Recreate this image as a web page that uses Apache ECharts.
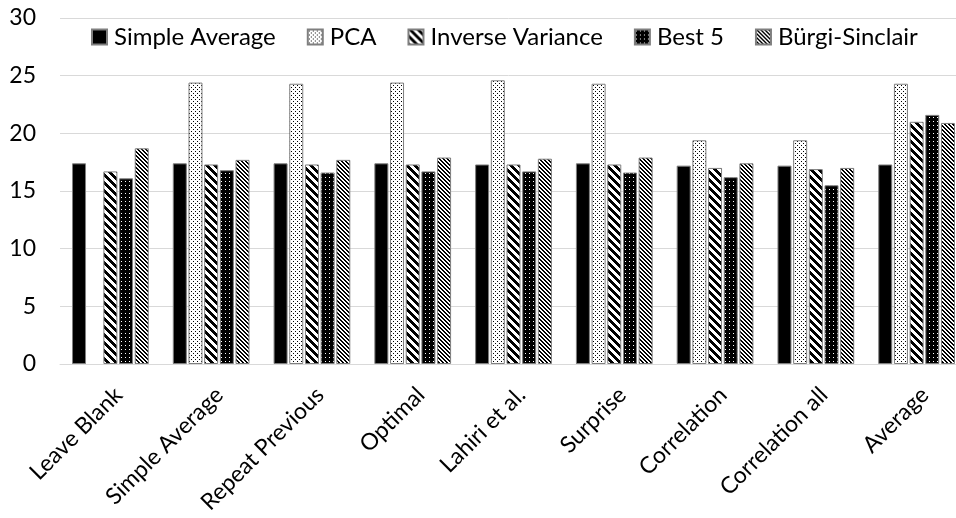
<!DOCTYPE html>
<html>
<head>
<meta charset="utf-8">
<script src="https://cdn.jsdelivr.net/npm/echarts@6/dist/echarts.min.js"></script>
<style>
html,body{margin:0;padding:0;background:#fff;}
#chart{width:956px;height:518px;}
</style>
</head>
<body>
<div id="chart"></div>
<script>
const categories = ['Leave Blank','Simple Average','Repeat Previous','Optimal','Lahiri et al.','Surprise','Correlation','Correlation all','Average'];
const seriesNames = ['Simple Average','PCA','Inverse Variance','Best 5','Bürgi-Sinclair'];
const simpleAverage   = [17.4, 17.4, 17.4, 17.4, 17.3, 17.4, 17.2, 17.2, 17.3];
const pca             = [null, 24.4, 24.3, 24.4, 24.6, 24.3, 19.4, 19.4, 24.3];
const inverseVariance = [16.7, 17.3, 17.3, 17.3, 17.3, 17.3, 17.0, 16.9, 21.0];
const best5           = [16.1, 16.8, 16.6, 16.7, 16.7, 16.6, 16.2, 15.5, 21.6];
const burgiSinclair   = [18.7, 17.7, 17.7, 17.9, 17.8, 17.9, 17.4, 17.0, 20.9];
const yTicks = [0, 5, 10, 15, 20, 25, 30];

function tile(w, h, fn) {
  const c = document.createElement('canvas');
  c.width = w; c.height = h;
  const ctx = c.getContext('2d');
  const img = ctx.createImageData(w, h);
  for (let y = 0; y < h; y++) for (let x = 0; x < w; x++) {
    const v = fn(x, y) ? 0 : 255;
    const i = (y * w + x) * 4;
    img.data[i] = v; img.data[i+1] = v; img.data[i+2] = v; img.data[i+3] = 255;
  }
  ctx.putImageData(img, 0, 0);
  return c;
}
const mod = (a, n) => ((a % n) + n) % n;
const patPCA = tile(4, 4, (x, y) => (x === 1 && y === 1) || (x === 3 && y === 3));
const patIV = tile(8, 8, (x, y) => mod(x - y, 8) < 4);
const patBest = tile(4, 4, (x, y) => !(x === 1 && y === 1));
const patBurgi = tile(4, 4, (x, y) => mod(x - y, 4) < 2);

const fills = ['#000000',
  {image: patPCA, repeat: 'repeat'},
  {image: patIV, repeat: 'repeat'},
  {image: patBest, repeat: 'repeat'},
  {image: patBurgi, repeat: 'repeat'}];
const dataSets = [simpleAverage, pca, inverseVariance, best5, burgiSinclair];
const FONT = 'Lato';

const chart = echarts.init(document.getElementById('chart'), null, {renderer: 'canvas'});
chart.setOption({
  animation: false,
  backgroundColor: '#ffffff',
  textStyle: {fontFamily: FONT},
  legend: {
    top: 25, left: 91, padding: 0,
    itemWidth: 15, itemHeight: 15, itemGap: 31,
    textStyle: {fontFamily: FONT, fontSize: 24, color: '#000', padding: [0, 0, 0, 2]},
    data: seriesNames.map(n => ({name: n, icon: 'rect'}))
  },
  grid: {left: 60, top: 18, width: 907, bottom: 154, containLabel: false, outerBoundsMode: 'none'},
  xAxis: {
    type: 'category',
    data: categories,
    axisLine: {lineStyle: {color: '#d9d9d9', width: 1}},
    axisTick: {show: false},
    axisLabel: {rotate: 45, margin: 19, verticalAlign: 'top', fontFamily: FONT, fontSize: 23, color: '#000', interval: 0}
  },
  yAxis: {
    type: 'value', min: yTicks[0], max: yTicks[yTicks.length-1], interval: 5,
    axisLine: {show: false}, axisTick: {show: false},
    splitLine: {lineStyle: {color: '#d9d9d9', width: 1}},
    axisLabel: {margin: 24, fontFamily: FONT, fontSize: 23, color: '#000'}
  },
  series: seriesNames.map((n, i) => ({
    name: n, type: 'bar',
    data: dataSets[i],
    barWidth: 14, barGap: '12%',
    itemStyle: {color: fills[i], borderColor: '#7f7f7f', borderWidth: 1}
  }))
});
</script>
</body>
</html>
